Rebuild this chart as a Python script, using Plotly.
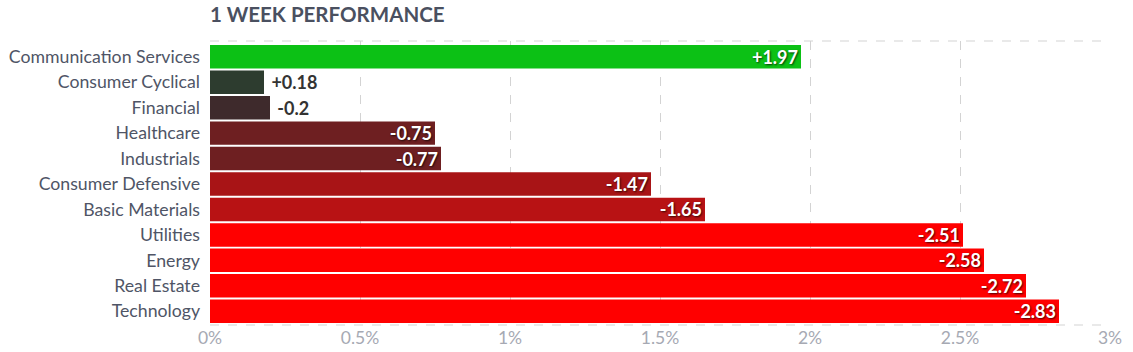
import plotly.graph_objects as go

sectors = ["Communication Services", "Consumer Cyclical", "Financial", "Healthcare",
           "Industrials", "Consumer Defensive", "Basic Materials", "Utilities",
           "Energy", "Real Estate", "Technology"]
changes = [1.97, 0.18, -0.2, -0.75, -0.77, -1.47, -1.65, -2.51, -2.58, -2.72, -2.83]
colors = ["#0cc115", "#2d3c2f", "#3e2a2c", "#6e1f21", "#6e1f21", "#a81416", "#b81214",
          "#ff0000", "#ff0000", "#ff0000", "#ff0000"]
x_ticks = [0, 0.5, 1, 1.5, 2, 2.5, 3]
x_tick_labels = ["0%", "0.5%", "1%", "1.5%", "2%", "2.5%", "3%"]

lengths = [abs(v) for v in changes]
positions = ["outside" if abs(v) < 0.5 else "inside" for v in changes]
labels = [(" " if p == "outside" else "") + ("+" if v > 0 else "") + f"{v:g}"
          for v, p in zip(changes, positions)]

fig = go.Figure(go.Bar(
    y=list(range(len(sectors))), x=lengths, orientation="h",
    marker=dict(color=colors, line=dict(width=0)),
    text=labels, textposition=positions,
    insidetextanchor="end",
    insidetextfont=dict(family="Lato", size=18, color="white", weight="bold",
                        shadow="1px 1px 2px rgba(0,0,0,0.7)"),
    outsidetextfont=dict(family="Lato", size=18, color="#333333", weight="bold"),
    textangle=0, cliponaxis=False,
))

grid = "#d3d3d3"
fig.update_layout(
    width=1133, height=352,
    margin=dict(l=210, r=23, t=41, b=27),
    paper_bgcolor="white", plot_bgcolor="white",
    bargap=0.077,
    uniformtext=dict(minsize=18, mode="show"),
    font=dict(family="Lato", size=18, color="#4f5566"),
    showlegend=False,
    title=dict(text="<b>1 WEEK PERFORMANCE</b>", x=210/1133, xanchor="left",
               y=1 - 15/352, yanchor="middle",
               font=dict(family="Lato", size=20.5, color="#4a5060")),
    xaxis=dict(range=[0, 3], tickvals=x_ticks, ticktext=x_tick_labels,
               showgrid=True, gridcolor=grid, griddash="dash", gridwidth=1,
               zeroline=False, showline=False, ticklabelstandoff=0, automargin=False,
               tickfont=dict(family="Lato", size=17.5, color="#a6a9b3")),
    yaxis=dict(range=[10.54, -0.62], showgrid=False, zeroline=False,
               tickvals=list(range(len(sectors))), ticktext=sectors,
               ticklabelstandoff=9, automargin=False,
               tickfont=dict(family="Lato", size=17.7, color="#4f5566")),
    shapes=[
        dict(type="line", xref="paper", yref="paper", x0=0, x1=1, y0=1, y1=1,
             line=dict(color=grid, width=1, dash="dash")),
        dict(type="line", xref="paper", yref="paper", x0=0, x1=1, y0=0, y1=0,
             line=dict(color=grid, width=1, dash="dash")),
    ],
)

fig.write_html("out.html")
